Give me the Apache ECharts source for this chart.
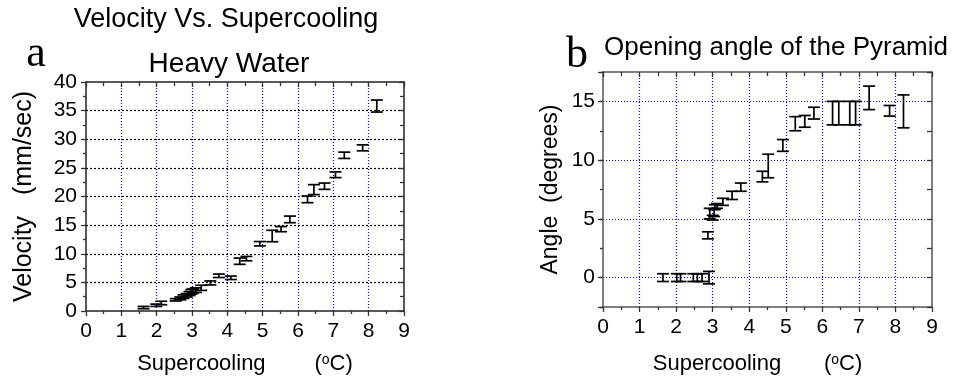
<!DOCTYPE html>
<html>
<head>
<meta charset="utf-8">
<script src="https://cdn.jsdelivr.net/npm/echarts@6/dist/echarts.min.js"></script>
<style>
  html, body { margin: 0; padding: 0; background: #fff; }
  #main { width: 963px; height: 379px; }
</style>
</head>
<body>
<div id="main"></div>
<script>
// panel a: heavy water growth velocity (mm/sec) vs supercooling (C)
const velX = [1.63, 1.99, 2.13, 2.54, 2.67, 2.76, 2.85, 2.93, 2.98, 3.03, 3.11, 3.26, 3.52, 3.76, 4.1, 4.35, 4.54, 4.92, 5.27, 5.52, 5.77, 6.27, 6.45, 6.75, 7.06, 7.31, 7.83, 8.23];
const velY = [0.6, 1.0, 1.4, 1.95, 2.2, 2.5, 2.75, 3.05, 3.35, 3.5, 3.65, 4.05, 4.9, 6.15, 5.8, 8.7, 9.15, 11.75, 13.1, 14.3, 16.0, 19.5, 21.2, 21.8, 23.8, 27.2, 28.5, 35.8];
const velErr = [0.2, 0.2, 0.3, 0.2, 0.25, 0.3, 0.3, 0.35, 0.4, 0.35, 0.4, 0.45, 0.35, 0.3, 0.3, 0.55, 0.38, 0.38, 1.0, 0.45, 0.58, 0.58, 0.87, 0.55, 0.5, 0.55, 0.52, 1.05];

// panel b: opening angle of the pyramid (degrees) vs supercooling (C)
const angX = [1.64, 2.02, 2.12, 2.47, 2.58, 2.71, 2.9, 2.87, 2.92, 3.0, 3.04, 3.06, 3.12, 3.28, 3.53, 3.77, 4.36, 4.52, 4.92, 5.26, 5.52, 5.77, 6.28, 6.45, 6.75, 6.91, 7.28, 7.84, 8.22];
const angY = [0, 0, 0, 0, 0, 0, 0, 3.6, 5.45, 5.1, 5.5, 6.0, 6.1, 6.45, 7.0, 7.7, 8.6, 9.5, 11.25, 13.1, 13.3, 14.0, 14.0, 14.0, 14.0, 14.0, 15.3, 14.2, 14.15];
const angErr = [0.33, 0.33, 0.33, 0.33, 0.33, 0.33, 0.53, 0.3, 0.45, 0.2, 0.3, 0.2, 0.2, 0.3, 0.35, 0.35, 0.45, 1.0, 0.5, 0.6, 0.5, 0.5, 1.0, 1.0, 1.0, 1.0, 1.0, 0.45, 1.4];

const FONT = '"Liberation Sans", Arial, sans-serif';
const SERIF = '"Liberation Serif", "Times New Roman", serif';

function errorBar(params, api) {
  const x = api.value(0);
  const y = api.value(1);
  const e = api.value(2);
  const lo = api.coord([x, y - e]);
  const hi = api.coord([x, y + e]);
  const hw = 6;
  const style = { stroke: '#000', lineWidth: 1.7 };
  return {
    type: 'group',
    children: [
      { type: 'line', shape: { x1: lo[0], y1: lo[1], x2: hi[0], y2: hi[1] }, style },
      { type: 'line', shape: { x1: lo[0] - hw, y1: lo[1], x2: lo[0] + hw, y2: lo[1] }, style },
      { type: 'line', shape: { x1: hi[0] - hw, y1: hi[1], x2: hi[0] + hw, y2: hi[1] }, style }
    ]
  };
}

const axisLineA = { show: true, onZero: false, lineStyle: { color: '#222', width: 1.5 } };
const axisLineB = { show: true, onZero: false, lineStyle: { color: '#555', width: 1.5 } };
const tickStyle = { color: '#333', width: 1.3 };
const labelStyle = { fontSize: 21, fontFamily: FONT, color: '#000' };
const blueDots = { color: '#0000ff', type: [1, 2], width: 1.2 };
const blackDots = { color: '#000', type: [2, 2], width: 1.2 };

function nameRich() {
  return {
    fontSize: 22, fontFamily: FONT, color: '#000',
    rich: {
      t: { fontSize: 22, fontFamily: FONT, color: '#000' },
      s: { fontSize: 14, fontFamily: FONT, color: '#000', verticalAlign: 'top' }
    }
  };
}

const myChart = echarts.init(document.getElementById('main'));

const option = {
  backgroundColor: '#fff',
  animation: false,
  grid: [
    { left: 86, top: 82, right: 559, bottom: 68, outerBoundsMode: 'none' },
    { left: 603, top: 72, right: 31, bottom: 72, outerBoundsMode: 'none' }
  ],
  graphic: [
    { type: 'text', x: 226, y: 20, style: { text: 'Velocity Vs. Supercooling', font: '27px ' + FONT, fill: '#000', textAlign: 'center', textVerticalAlign: 'middle' } },
    { type: 'text', x: 229, y: 64, style: { text: 'Heavy Water', font: '28px ' + FONT, fill: '#000', textAlign: 'center', textVerticalAlign: 'middle' } },
    { type: 'text', x: 36, y: 54, style: { text: 'a', font: '44px ' + SERIF, fill: '#000', textAlign: 'center', textVerticalAlign: 'middle' } },
    { type: 'text', x: 577, y: 55, style: { text: 'b', font: '44px ' + SERIF, fill: '#000', textAlign: 'center', textVerticalAlign: 'middle' } },
    { type: 'text', x: 604, y: 48, style: { text: 'Opening angle of the Pyramid', font: '26px ' + FONT, fill: '#000', textAlign: 'left', textVerticalAlign: 'middle' } }
  ],
  xAxis: [
    {
      gridIndex: 0, type: 'value', min: 0, max: 9, interval: 1, position: 'bottom',
      name: '{t|Supercooling}        {t|(}{s|o}{t|C)}', nameLocation: 'middle', nameGap: 42,
      nameTextStyle: nameRich(),
      axisLine: axisLineA,
      axisTick: { show: true, inside: false, length: 5, lineStyle: tickStyle },
      minorTick: { show: true, splitNumber: 2, length: 3, lineStyle: tickStyle },
      axisLabel: Object.assign({ margin: 10 }, labelStyle),
      splitLine: { show: true, showMinLine: false, showMaxLine: false, lineStyle: blueDots }
    },
    {
      gridIndex: 0, type: 'value', min: 0, max: 9, interval: 1, position: 'top',
      axisLine: axisLineA,
      axisTick: { show: true, inside: true, length: 5, lineStyle: tickStyle },
      minorTick: { show: true, splitNumber: 2, length: 4, lineStyle: tickStyle },
      axisLabel: { show: false },
      splitLine: { show: false }
    },
    {
      gridIndex: 1, type: 'value', min: 0, max: 9, interval: 1, position: 'bottom',
      name: '{t|Supercooling}       {t|(}{s|o}{t|C)}', nameLocation: 'middle', nameGap: 46,
      nameTextStyle: Object.assign(nameRich(), { padding: [0, 20, 0, 0] }),
      axisLine: axisLineB,
      axisTick: { show: true, inside: false, length: 5, lineStyle: tickStyle },
      minorTick: { show: true, splitNumber: 2, length: 3, lineStyle: tickStyle },
      axisLabel: Object.assign({ margin: 10 }, labelStyle),
      splitLine: { show: true, showMinLine: false, showMaxLine: false, lineStyle: blueDots }
    },
    {
      gridIndex: 1, type: 'value', min: 0, max: 9, interval: 1, position: 'top',
      axisLine: axisLineB,
      axisTick: { show: true, inside: true, length: 5, lineStyle: tickStyle },
      minorTick: { show: true, splitNumber: 2, length: 4, lineStyle: tickStyle },
      axisLabel: { show: false },
      splitLine: { show: false }
    }
  ],
  yAxis: [
    {
      gridIndex: 0, type: 'value', min: 0, max: 40, interval: 5, position: 'left',
      name: 'Velocity   (mm/sec)', nameLocation: 'middle', nameGap: 49,
      nameTextStyle: { fontSize: 25, fontFamily: FONT, color: '#000' },
      axisLine: axisLineA,
      axisTick: { show: true, inside: false, length: 5, lineStyle: tickStyle },
      minorTick: { show: true, splitNumber: 2, length: 3, lineStyle: tickStyle },
      axisLabel: Object.assign({ margin: 9 }, labelStyle),
      splitLine: { show: true, showMinLine: false, showMaxLine: false, lineStyle: blackDots }
    },
    {
      gridIndex: 0, type: 'value', min: 0, max: 40, interval: 5, position: 'right',
      axisLine: axisLineA,
      axisTick: { show: true, inside: true, length: 5, lineStyle: tickStyle },
      minorTick: { show: true, splitNumber: 2, length: 4, lineStyle: tickStyle },
      axisLabel: { show: false },
      splitLine: { show: false }
    },
    {
      gridIndex: 1, type: 'value', min: -2.5, max: 17.5, splitNumber: 4, position: 'left',
      name: 'Angle  (degrees)', nameLocation: 'middle', nameGap: 41,
      nameTextStyle: { fontSize: 23, fontFamily: FONT, color: '#000' },
      axisLine: axisLineB,
      axisTick: { show: true, inside: false, length: 5, lineStyle: tickStyle },
      axisLabel: Object.assign({
        margin: 8,
        formatter: function (v) { return v % 5 === 0 ? String(v) : ''; }
      }, labelStyle),
      splitLine: { show: true, showMinLine: false, showMaxLine: false, lineStyle: blueDots }
    },
    {
      gridIndex: 1, type: 'value', min: -2.5, max: 17.5, interval: 2.5, position: 'right',
      axisLine: axisLineB,
      axisTick: { show: true, inside: true, length: 5, lineStyle: tickStyle },
      axisLabel: { show: false },
      splitLine: { show: false }
    },
    {
      // minor ticks on the left edge of panel b
      gridIndex: 1, type: 'value', min: -2.5, max: 17.5, interval: 2.5, position: 'left',
      axisLine: { show: false, onZero: false },
      axisTick: { show: true, inside: false, length: 3, lineStyle: tickStyle },
      axisLabel: { show: false },
      splitLine: { show: false }
    }
  ],
  series: [
    {
      type: 'custom', xAxisIndex: 0, yAxisIndex: 0,
      renderItem: errorBar,
      encode: { x: 0, y: 1 },
      data: velX.map((x, i) => [x, velY[i], velErr[i]])
    },
    {
      type: 'custom', xAxisIndex: 2, yAxisIndex: 2,
      renderItem: errorBar,
      encode: { x: 0, y: 1 },
      data: angX.map((x, i) => [x, angY[i], angErr[i]])
    }
  ]
};

myChart.setOption(option);
</script>
</body>
</html>
